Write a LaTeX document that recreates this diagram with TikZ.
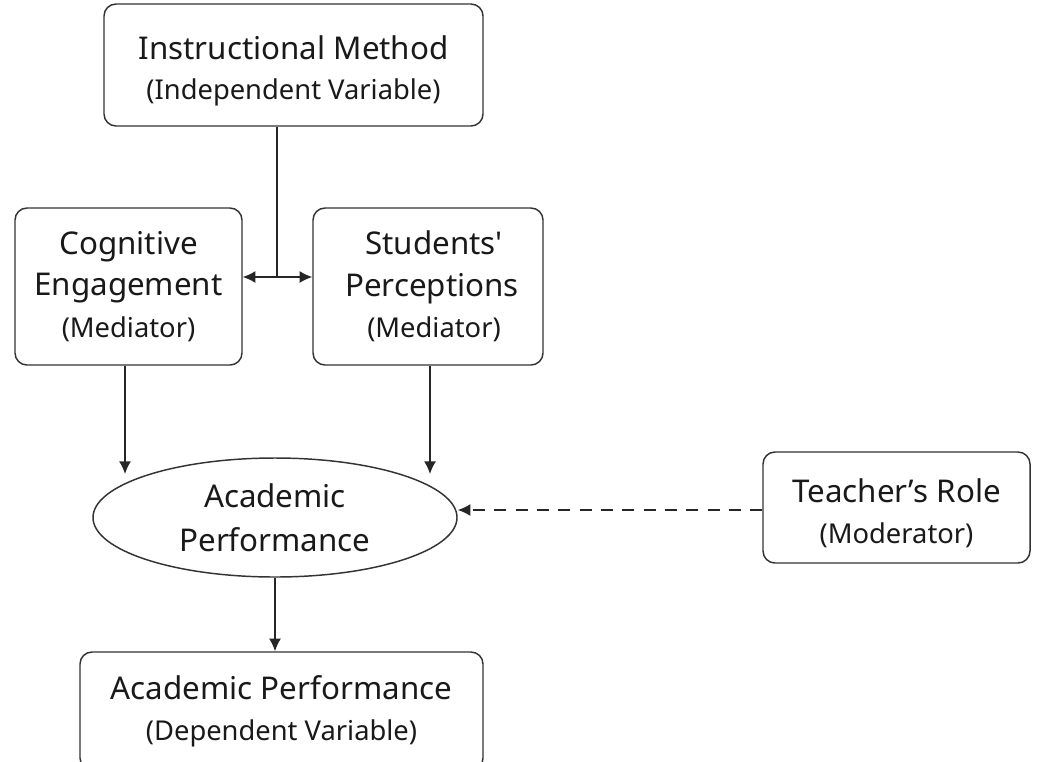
\documentclass[tikz,border=0pt]{standalone}
\usepackage{fontspec}
\setmainfont{Noto Sans}
\usetikzlibrary{shapes.geometric,arrows.meta}
\newcommand{\mainsz}{\fontsize{23.5}{31}\selectfont}
\newcommand{\subsz}{\fontsize{20.5}{31}\selectfont}
% taller first line pushes a two-line label down a little
\newcommand{\lowstrut}{\rule{0pt}{26pt}}
\begin{document}
\begin{tikzpicture}[x=0.75pt,y=-0.75pt,
  box/.style={draw=black!80,line width=1.1pt,rounded corners=9pt,align=center,
    inner sep=0pt,font=\mainsz,text=black!90},
  oval/.style={ellipse,draw=black!80,line width=1.1pt,align=center,inner sep=0pt,
    font=\mainsz,text=black!90},
  tip/.tip={Latex[length=9.5pt,width=9pt]},
  link/.style={draw=black!85,line width=1.1pt,-tip},
  both/.style={draw=black!85,line width=1.1pt,tip-tip}]
\useasboundingbox (0,0) rectangle (1041,761);
\clip (0,0) rectangle (1041,761);

\node[box,minimum width=379*0.75pt,minimum height=122*0.75pt] (top) at (293.5,65)
  {\lowstrut Instructional Method\\[-1pt]{\subsz (Independent Variable)}};
\node[box,minimum width=227*0.75pt,minimum height=157*0.75pt] (cog) at (128.5,286.5)
  {Cognitive\\Engagement\\{\subsz (Mediator)}};
\node[box,minimum width=230*0.75pt,minimum height=157*0.75pt] (stu) at (428,286.5)
  {\hspace*{9pt}Students\textquotesingle\\\hspace*{6pt}Perceptions\\{\subsz\hspace*{9pt}(Mediator)}};
\node[oval,minimum width=364*0.75pt,minimum height=119*0.75pt] (perf) at (275,517.5)
  {Academic\\[2pt]Performance};
\node[box,minimum width=267*0.75pt,minimum height=111*0.75pt] (teach) at (896.5,507.5)
  {\lowstrut Teacher’s Role\\{\subsz (Moderator)}};
\node[box,minimum width=403*0.75pt,minimum height=118*0.75pt] (dep) at (281.5,711)
  {Academic Performance\\{\subsz (Dependent Variable)}};

% method feeds both mediators
\coordinate (j) at (277,277);
\draw[line width=1.1pt,draw=black!85] (top.south -| j) -- (j);
\draw[both] (cog.east |- j) -- (stu.west |- j);

% mediators to performance
\draw[link] (cog.south -| 125,0) -- (125,474);
\draw[link] (stu.south -| 430,0) -- (430,474);

% moderator
\draw[link,dashed,dash pattern=on 9pt off 7pt] (teach.west |- 0,510) -- (perf.east |- 0,510);

% outcome
\draw[link] (perf.south) -- (dep.north -| perf.south);
\end{tikzpicture}
\end{document}
